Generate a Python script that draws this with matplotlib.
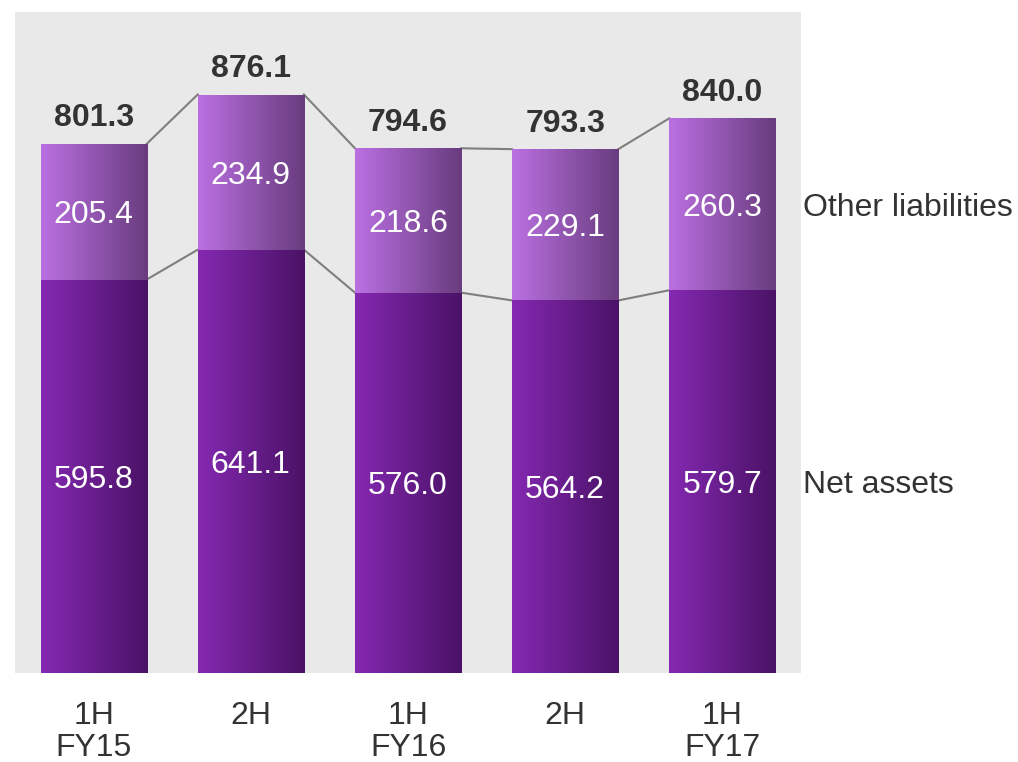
import numpy as np
import matplotlib.pyplot as plt
from matplotlib.colors import LinearSegmentedColormap

plt.rcParams['font.family'] = ['Liberation Sans', 'DejaVu Sans']

periods = ["1H\nFY15", "2H", "1H\nFY16", "2H", "1H\nFY17"]
net_assets = [595.8, 641.1, 576.0, 564.2, 579.7]
other_liab = [205.4, 234.9, 218.6, 229.1, 260.3]
totals = [801.3, 876.1, 794.6, 793.3, 840.0]

x = np.arange(len(periods))
w = 0.675

fig = plt.figure(figsize=(10.18, 7.62), dpi=100)
ax = fig.add_axes([15/1018, 89/762, 786/1018, 661/762])
ax.set_facecolor('#e9e9e9')

cm_bot = LinearSegmentedColormap.from_list('bot', ['#8529b2', '#4a1266'])
cm_top = LinearSegmentedColormap.from_list('top', ['#bb70e2', '#683c7e'])
grad = np.linspace(0, 1, 256).reshape(1, -1)

b1 = ax.bar(x, net_assets, w, color='#6a1c90', zorder=2)
b2 = ax.bar(x, other_liab, w, bottom=net_assets, color='#9555b0', zorder=2)

for bars, cm in ((b1, cm_bot), (b2, cm_top)):
    for p in bars:
        x0, y0 = p.get_x(), p.get_y()
        im = ax.imshow(grad, cmap=cm, aspect='auto', zorder=3,
                       extent=[x0, x0 + p.get_width(), y0, y0 + p.get_height()])
        im.set_clip_path(p)

# connector lines
for i in range(len(x) - 1):
    xa = x[i] + w / 2
    xb = x[i + 1] - w / 2
    ax.plot([xa, xb], [totals[i], totals[i + 1]], color='#7f7f7f', lw=1.5, zorder=1)
    ax.plot([xa, xb], [net_assets[i], net_assets[i + 1]], color='#7f7f7f', lw=1.5, zorder=1)

fs = 23
for i in range(len(x)):
    ax.text(x[i], net_assets[i] / 2, f"{net_assets[i]:.1f}", ha='center',
            va='center_baseline', color='white', fontsize=fs, zorder=5)
    ax.text(x[i], net_assets[i] + other_liab[i] / 2, f"{other_liab[i]:.1f}", ha='center',
            va='center_baseline', color='white', fontsize=fs, zorder=5)
    ax.text(x[i], totals[i] + 44, f"{totals[i]:.1f}", ha='center', va='center_baseline',
            color='#333333', fontsize=fs, fontweight='bold', zorder=5)

ax.text(4.5 + 0.01, net_assets[-1] + other_liab[-1] / 2, "Other liabilities",
        ha='left', va='center_baseline', fontsize=fs, color='#333333', clip_on=False)
ax.text(4.5 + 0.01, net_assets[-1] / 2, "Net assets",
        ha='left', va='center_baseline', fontsize=fs, color='#333333', clip_on=False)

ax.set_xlim(-0.5, 4.5)
ax.set_ylim(0, 1001)
ax.set_xticks(x)
ax.set_xticklabels(periods, fontsize=fs, color='#333333', va='top', linespacing=1.1)
ax.tick_params(axis='x', length=0, pad=20)
ax.set_yticks([])
for s in ax.spines.values():
    s.set_visible(False)

fig.savefig('out.png', dpi=100)
